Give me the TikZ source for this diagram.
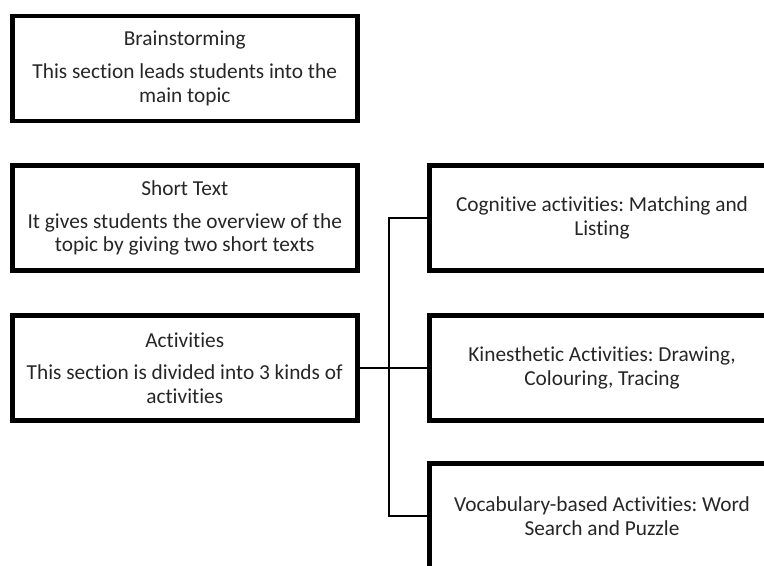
\documentclass[tikz,border=0pt]{standalone}
\usepackage{fontspec}
\setmainfont{Carlito}[Ligatures=NoCommon]
\frenchspacing
\tikzset{every picture/.style={line width=0.75pt}}
\tikzset{
  stagebox/.style={draw, line width=3.6pt, minimum width=258.75pt, minimum height=78.75pt, inner sep=0.75pt, align=center, font=\fontsize{16}{17.6}\selectfont, text=black!85},
  link/.style={line width=1.9pt}
}

\begin{document}
\begin{tikzpicture}[x=0.75pt,y=0.75pt,yscale=-1,xscale=1]
\useasboundingbox (0,0) rectangle (764,565);
\clip (0,0) rectangle (764,565);

%Shape: Rectangle [id:brain]
\node [stagebox] (brain) at (184.75,68.5) {Brainstorming\\[7pt]This section leads students into the\\main topic};
%Shape: Rectangle [id:short]
\node [stagebox] (short) at (184.75,218) {Short Text\\[7pt]It gives students the overview of the\\topic by giving two short texts};
%Shape: Rectangle [id:act]
\node [stagebox] (act) at (184.75,368) {Activities\\[7pt]This section is divided into 3 kinds of\\activities};

%Shape: Rectangle [id:cog]
\node [stagebox] (cog) at (602,218) {Cognitive activities: Matching and\\Listing};
%Shape: Rectangle [id:kin]
\node [stagebox] (kin) at (602,368) {Kinesthetic Activities: Drawing,\\Colouring, Tracing};
%Shape: Rectangle [id:voc]
\node [stagebox] (voc) at (602,516) {Vocabulary-based Activities: Word\\Search and Puzzle};

%Straight Lines [id:links]
\draw [link] (act.east) -- (kin.west) ;
\draw [link] (cog.west) -- ++(-38,0) |- (voc.west) ;

\end{tikzpicture}
\end{document}
